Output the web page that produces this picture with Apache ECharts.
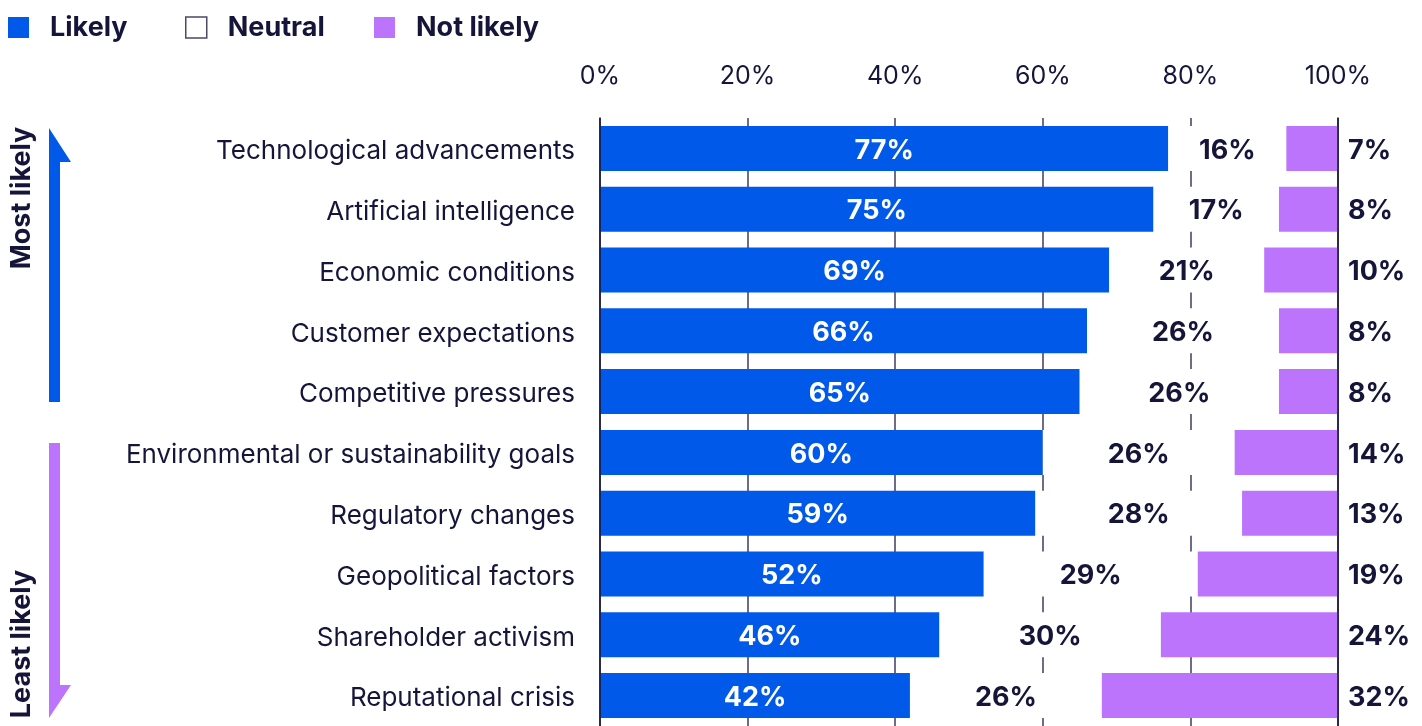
<!DOCTYPE html>
<html>
<head>
<meta charset="utf-8">
<script src="https://cdn.jsdelivr.net/npm/echarts@6/dist/echarts.min.js"></script>
<style>
html,body{margin:0;padding:0;background:#fff;}
#chart{width:1422px;height:726px;}
</style>
</head>
<body>
<div id="chart"></div>
<script>
const categories = [
  'Technological advancements',
  'Artificial intelligence',
  'Economic conditions',
  'Customer expectations',
  'Competitive pressures',
  'Environmental or sustainability goals',
  'Regulatory changes',
  'Geopolitical factors',
  'Shareholder activism',
  'Reputational crisis'
];
const likely    = [77, 75, 69, 66, 65, 60, 59, 52, 46, 42];
const neutral   = [16, 17, 21, 26, 26, 26, 28, 29, 30, 26];
const notLikely = [7, 8, 10, 8, 8, 14, 13, 19, 24, 32];

const BLUE = '#0059e8';
const PURPLE = '#bc74fc';
const NAVY = '#15153a';
const FONT = 'Inter, "Noto Sans", sans-serif';

// neutral segment fills the gap between likely (from left) and not likely (ending at 100%)
const neutralGap = likely.map((v, i) => 100 - v - notLikely[i]);

const chart = echarts.init(document.getElementById('chart'));
const legendText = {fontSize: 27, fontWeight: 'bold', color: NAVY, fontFamily: FONT, padding: [0, 0, 0, 16]};
const legendBase = {top: 14, padding: 0, itemWidth: 21, itemHeight: 21, icon: 'rect', textStyle: legendText, selectedMode: false};
chart.setOption({
  animation: false,
  textStyle: {fontFamily: FONT},
  legend: [
    Object.assign({data: ['Likely'], left: 8}, legendBase),
    Object.assign({data: [{name: 'Neutral', itemStyle: {color: '#fff', borderColor: '#4a4a66', borderWidth: 1.5}}], left: 185}, legendBase),
    Object.assign({data: ['Not likely'], left: 374}, legendBase)
  ],
  grid: {left: 600, right: 84, top: 118, bottom: -2, containLabel: false},
  xAxis: {
    type: 'value', position: 'top', min: 0, max: 100, interval: 20,
    axisLine: {show: false}, axisTick: {show: false},
    axisLabel: {formatter: v => v + '%', fontSize: 25, color: NAVY, margin: 29, fontFamily: FONT},
    splitLine: {show: true, lineStyle: {color: '#3d3d5c', width: 1.5}}
  },
  yAxis: [
    {
      type: 'category', data: categories, inverse: true, z: 10,
      axisLine: {show: true, lineStyle: {color: NAVY, width: 1.5}},
      axisTick: {show: false},
      axisLabel: {
        margin: 25,
        formatter: v => '{c|' + v + '}',
        rich: {c: {fontSize: 26, color: NAVY, fontFamily: FONT, padding: [6, 0, 0, 0]}}
      }
    },
    {
      type: 'category', data: categories, inverse: true, position: 'right', z: 10,
      axisLine: {show: true, lineStyle: {color: NAVY, width: 1.5}},
      axisTick: {show: false}, axisLabel: {show: false}
    }
  ],
  series: [
    {
      name: 'Likely', type: 'bar', stack: 'total', barWidth: 45,
      data: likely, itemStyle: {color: BLUE},
      label: {show: true, position: 'inside', offset: [0, 2], formatter: p => p.value + '%', color: '#fff', fontSize: 27, fontWeight: 'bold', fontFamily: FONT}
    },
    {
      name: 'Neutral', type: 'bar', stack: 'total', barWidth: 45,
      data: neutralGap, itemStyle: {color: '#fff'},
      label: {show: true, position: 'inside', offset: [0, 2], formatter: p => neutral[p.dataIndex] + '%', color: NAVY, fontSize: 27, fontWeight: 'bold', fontFamily: FONT}
    },
    {
      name: 'Not likely', type: 'bar', stack: 'total', barWidth: 45,
      data: notLikely, itemStyle: {color: PURPLE},
      label: {show: true, position: 'right', distance: 10, offset: [0, 2], formatter: p => p.value + '%', color: NAVY, fontSize: 27, fontWeight: 'bold', fontFamily: FONT}
    }
  ],
  graphic: [
    {type: 'polygon', shape: {points: [[49,128],[71,162],[60,162],[60,402],[49,402]]}, style: {fill: BLUE}},
    {type: 'text', x: 22, y: 198, rotation: Math.PI / 2, style: {text: 'Most likely', fill: NAVY, font: 'bold 27px ' + FONT, align: 'center', verticalAlign: 'middle'}},
    {type: 'polygon', shape: {points: [[49,443],[60,443],[60,685],[71,685],[49,718]]}, style: {fill: PURPLE}},
    {type: 'text', x: 22, y: 644, rotation: Math.PI / 2, style: {text: 'Least likely', fill: NAVY, font: 'bold 27px ' + FONT, align: 'center', verticalAlign: 'middle'}}
  ]
});
</script>
</body>
</html>
